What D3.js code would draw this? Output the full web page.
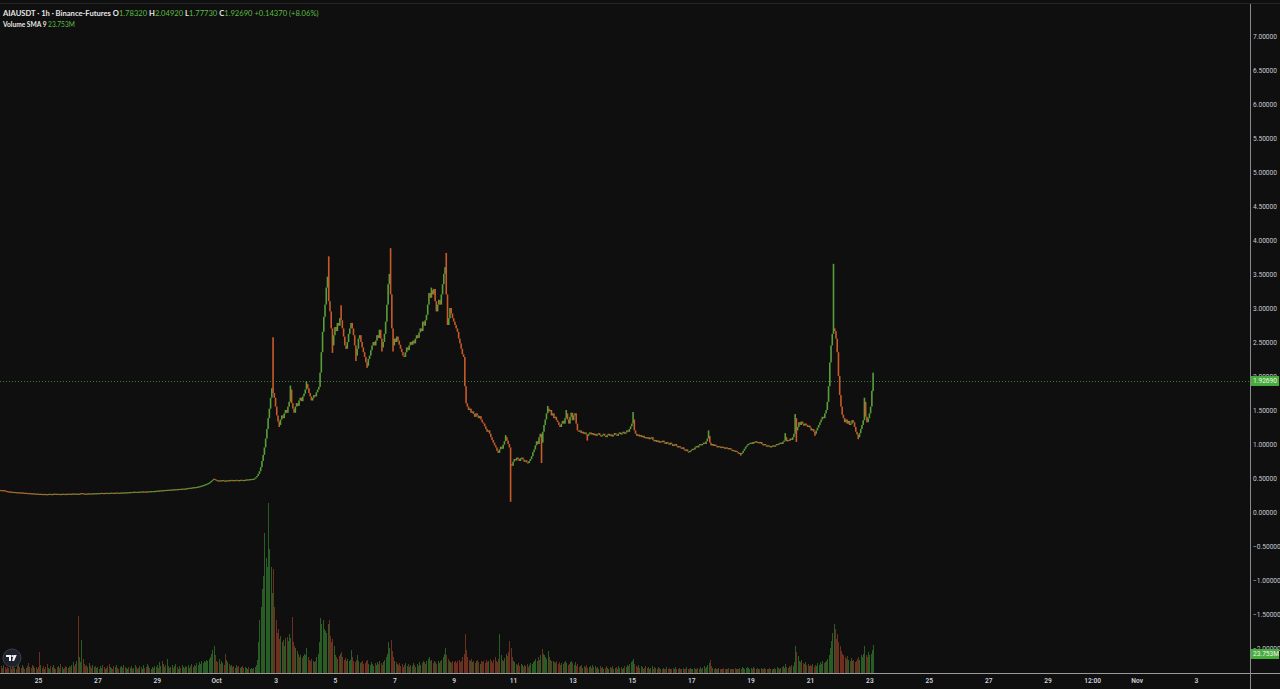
<!DOCTYPE html>
<html><head><meta charset="utf-8">
<script src="https://cdn.jsdelivr.net/npm/d3@7"></script>
<style>html,body{margin:0;padding:0;background:#0f0f0f;overflow:hidden}svg{display:block}</style>
</head><body><svg id="c" width="1280" height="689"></svg>
<script>
// ---------- DATA ----------
const symbolTitle = "AIAUSDT · 1h · Binance-Futures";
const ohlcLabels = ["O", "H", "L", "C"];
const ohlcValues = ["1.78320", "2.04920", "1.77730", "1.92690"];
const changeText = "+0.14370 (+8.06%)";
const volumeTitle = "Volume SMA 9";
const volumeSMA = 23.753;
const volumeSMAText = "23.753M";
const lastPrice = 1.92690;
const firstCandle = "2025-09-23T18:00:00Z";
const firstOpen = 0.325;

const priceTicks = [7, 6.5, 6, 5.5, 5, 4.5, 4, 3.5, 3, 2.5, 2, 1.5, 1, 0.5, 0, -0.5, -1, -1.5, -2];
const tickDates = ["2025-09-25", "2025-09-27", "2025-09-29", "2025-10-01", "2025-10-03", "2025-10-05", "2025-10-07",
  "2025-10-09", "2025-10-11", "2025-10-13", "2025-10-15", "2025-10-17", "2025-10-19", "2025-10-21", "2025-10-23",
  "2025-10-25", "2025-10-27", "2025-10-29", "2025-10-30T12:00", "2025-11-01", "2025-11-03"];
const tickLabels = ["25", "27", "29", "Oct", "3", "5", "7", "9", "11", "13", "15", "17", "19", "21", "23", "25", "27", "29", "12:00", "Nov", "3"];

// hourly closes, one row per day (Sep 23 18:00 ... Oct 23 03:00)
const closeByDay = [
  [0.32,0.318,0.322,0.315,0.31,0.305],
  [0.302,0.298,0.30,0.296,0.292,0.295,0.29,0.288,0.292,0.286,0.284,0.288,0.283,0.28,0.282,0.278,0.276,0.279,0.274,0.272,0.275,0.27,0.268,0.271],
  [0.267,0.265,0.268,0.264,0.262,0.266,0.263,0.26,0.264,0.268,0.265,0.262,0.266,0.27,0.267,0.264,0.268,0.265,0.262,0.266,0.269,0.266,0.263,0.267],
  [0.27,0.268,0.266,0.269,0.272,0.27,0.267,0.271,0.262,0.268,0.272,0.279,0.274,0.272,0.27,0.268,0.272,0.275,0.273,0.27,0.274,0.277,0.274,0.276],
  [0.278,0.275,0.279,0.282,0.279,0.276,0.28,0.283,0.28,0.278,0.282,0.285,0.282,0.279,0.283,0.286,0.283,0.28,0.284,0.287,0.285,0.288,0.285,0.289],
  [0.291,0.288,0.292,0.295,0.292,0.296,0.299,0.296,0.293,0.297,0.3,0.297,0.301,0.304,0.3,0.298,0.302,0.305,0.302,0.306,0.309,0.305,0.308,0.311],
  [0.314,0.311,0.316,0.319,0.316,0.321,0.324,0.32,0.325,0.328,0.324,0.329,0.332,0.328,0.333,0.336,0.332,0.337,0.34,0.336,0.341,0.344,0.34,0.345],
  [0.348,0.352,0.356,0.353,0.358,0.362,0.366,0.362,0.368,0.372,0.376,0.381,0.386,0.392,0.398,0.405,0.412,0.42,0.428,0.44,0.455,0.47,0.488,0.478],
  [0.468,0.462,0.466,0.46,0.465,0.47,0.464,0.458,0.462,0.467,0.463,0.468,0.472,0.468,0.464,0.469,0.473,0.469,0.466,0.47,0.474,0.471,0.468,0.473],
  [0.476,0.48,0.477,0.482,0.486,0.483,0.488,0.495,0.51,0.53,0.56,0.6,0.66,0.75,0.84,0.95,1.08,1.22,1.38,1.52,1.68,1.82,1.75,1.68],
  [1.55,1.42,1.33,1.28,1.36,1.42,1.38,1.45,1.5,1.46,1.55,1.62,1.8,1.6,1.52,1.46,1.55,1.6,1.56,1.64,1.68,1.63,1.7,1.74],
  [1.8,1.88,1.82,1.75,1.7,1.64,1.68,1.72,1.7,1.76,1.8,1.84,2.05,2.35,2.65,2.87,3.05,3.3,3.46,3.1,2.95,2.7,2.45,2.6],
  [2.72,2.66,2.78,2.74,2.85,2.82,2.7,2.58,2.45,2.4,2.5,2.62,2.7,2.78,2.7,2.6,2.45,2.3,2.4,2.55,2.6,2.5,2.42,2.35],
  [2.28,2.2,2.15,2.25,2.3,2.38,2.45,2.5,2.45,2.52,2.6,2.56,2.68,2.55,2.42,2.5,2.62,2.8,3.05,3.35,3.5,3.2,2.7,2.45],
  [2.55,2.5,2.58,2.52,2.46,2.4,2.35,2.3,2.28,2.35,2.42,2.38,2.45,2.5,2.46,2.52,2.48,2.55,2.6,2.56,2.64,2.7,2.66,2.8],
  [2.74,2.82,2.9,3.05,3.22,3.15,3.26,3.2,3.28,3.1,2.95,3.05,3.12,3.05,3.2,3.35,3.5,3.6,3.2,2.75,2.85,3.0,2.92,2.85],
  [2.8,2.75,2.7,2.65,2.55,2.48,2.4,2.32,2.28,1.85,1.6,1.55,1.5,1.52,1.46,1.48,1.44,1.4,1.45,1.42,1.38,1.41,1.36,1.32],
  [1.3,1.26,1.22,1.18,1.2,1.15,1.1,1.06,1.02,0.98,0.95,0.9,0.87,0.92,0.96,0.93,0.99,1.04,1.1,1.05,1.0,0.95,0.7,0.68],
  [0.74,0.78,0.76,0.8,0.78,0.75,0.79,0.8,0.77,0.74,0.76,0.73,0.72,0.75,0.78,0.82,0.88,0.92,0.98,1.04,1.0,1.1,1.15,1.02],
  [1.18,1.28,1.36,1.45,1.52,1.48,1.5,1.42,1.45,1.38,1.4,1.35,1.32,1.28,1.25,1.3,1.34,1.3,1.38,1.45,1.36,1.3,1.4,1.46],
  [1.35,1.42,1.45,1.3,1.2,1.18,1.2,1.16,1.18,1.15,1.17,1.14,1.12,1.15,1.17,1.14,1.16,1.13,1.15,1.12,1.14,1.16,1.13,1.11],
  [1.13,1.15,1.12,1.1,1.13,1.15,1.12,1.14,1.11,1.13,1.16,1.14,1.12,1.15,1.17,1.14,1.16,1.18,1.15,1.17,1.2,1.18,1.22,1.26],
  [1.3,1.36,1.2,1.15,1.12,1.14,1.11,1.13,1.1,1.12,1.09,1.1,1.08,1.1,1.07,1.09,1.1,1.06,1.04,1.06,1.03,1.05,1.02,1.04],
  [1.03,1.05,1.02,1.0,1.03,1.01,0.99,1.02,1.0,0.97,0.99,1.0,0.97,0.95,0.97,0.95,0.93,0.95,0.92,0.9,0.92,0.89,0.88,0.9],
  [0.91,0.93,0.92,0.95,0.97,0.95,0.98,1.0,0.98,1.0,1.02,1.0,1.04,1.08,1.12,1.02,0.98,1.0,0.97,0.99,0.97,0.95,0.97,0.96],
  [0.94,0.96,0.95,0.93,0.95,0.94,0.92,0.94,0.92,0.9,0.91,0.89,0.9,0.88,0.86,0.87,0.85,0.87,0.9,0.93,0.96,0.98,1.0,1.01],
  [1.02,1.0,1.03,1.02,1.04,1.02,1.03,1.01,1.03,1.0,0.98,1.0,0.98,0.96,0.98,0.97,0.95,0.97,0.98,0.96,0.98,1.0,0.99,1.01],
  [1.02,1.0,1.03,1.05,1.1,1.04,1.06,1.05,1.08,1.06,1.1,1.15,1.38,1.2,1.25,1.32,1.28,1.33,1.3,1.27,1.3,1.28,1.25,1.27],
  [1.24,1.2,1.22,1.18,1.15,1.2,1.24,1.28,1.32,1.36,1.4,1.38,1.45,1.5,1.62,1.85,2.2,2.45,2.62,2.7,2.66,2.55,2.35,2.0],
  [1.72,1.55,1.43,1.38,1.32,1.36,1.3,1.34,1.28,1.3,1.35,1.32,1.25,1.18,1.14,1.1,1.16,1.22,1.28,1.35,1.62,1.4,1.32,1.38],
  [1.45,1.55,1.7832,1.9269]
];

// notable wick extremes (candle index, high, low)
const wickIdx  = [62, 220, 225, 234, 247, 265, 268, 275, 287, 296, 308, 315, 317, 348, 360, 408, 412, 437, 442, 457, 474, 511, 572, 598, 634, 642, 643, 658, 673, 693, 698, 705];
const wickHigh = [null, 2.57, null, 1.86, 1.92, 3.76, null, 3.04, null, null, null, 3.88, null, 3.3, 3.81, 1.13, null, null, 1.56, 1.5, null, 1.47, 1.2, null, 1.16, 1.44, null, null, 3.65, null, 1.68, 2.0492];
const wickLow  = [0.255, null, 1.25, null, null, null, 2.34, null, 2.22, 2.12, 2.36, null, 2.36, null, null, null, 0.15, 0.72, null, null, 1.05, null, null, 0.83, null, null, 1.03, 1.12, null, 1.07, null, 1.7773];

// hourly volume in millions, one row per day
const volumeByDay = [
  [8,6,9,7,5,7],
  [6,8,5,7,9,6,5,8,10,7,6,9,7,5,6,8,11,7,6,9,8,6,7,5],
  [7,24,9,6,8,5,7,10,6,5,8,7,9,6,5,7,8,6,10,7,5,6,8,7],
  [6,8,7,9,12,8,10,14,64,18,12,37,16,10,8,9,7,11,8,6,9,7,8,6],
  [7,5,8,6,9,7,5,6,8,10,7,6,5,8,7,9,6,5,7,8,6,9,7,6],
  [5,7,6,8,5,6,9,7,5,6,8,7,5,9,6,7,10,8,6,5,7,6,8,7],
  [9,6,12,8,14,10,7,9,16,8,6,7,9,6,8,10,7,5,8,6,9,7,6,8],
  [7,9,6,8,10,7,9,8,11,9,12,10,14,11,13,12,15,13,16,18,22,26,30,20],
  [14,12,16,10,13,11,9,22,15,12,10,8,9,7,8,6,9,7,8,6,7,8,6,7],
  [6,5,7,5,6,5,6,7,9,15,35,60,75,95,110,158,130,120,192,140,120,90,118,75],
  [60,45,50,38,42,35,37,30,40,41,36,44,40,63,35,30,28,25,22,18,20,17,19,22],
  [20,28,18,15,14,16,13,12,14,18,22,35,62,55,60,50,48,45,55,60,42,35,38,30],
  [20,18,16,19,22,24,18,15,17,14,16,13,15,26,18,14,12,15,20,13,11,12,14,10],
  [11,13,15,10,9,12,10,8,11,9,12,10,14,11,9,12,15,18,22,35,28,37,25,18],
  [14,12,10,9,11,8,10,7,9,11,8,10,7,9,8,11,9,7,10,8,12,9,11,13],
  [12,10,14,16,18,13,15,11,13,12,10,14,11,13,15,18,22,28,20,16,14,12,11,13],
  [12,14,11,13,15,12,14,18,22,44,26,18,15,13,16,12,14,11,13,15,12,10,14,12],
  [13,11,15,12,14,16,13,11,15,18,14,12,16,44,20,15,13,17,22,19,24,36,28,18],
  [14,12,10,9,11,8,10,9,7,9,8,10,7,9,11,10,12,14,16,13,18,15,20,27],
  [22,20,18,16,25,18,15,13,14,12,11,13,10,12,9,11,10,12,14,11,9,10,12,13],
  [11,9,12,8,10,7,8,9,6,8,7,9,6,7,8,6,9,7,8,6,7,5,8,6],
  [7,5,6,8,6,5,7,6,8,5,6,7,5,8,6,7,5,6,8,7,9,8,10,12],
  [13,16,10,8,7,9,6,8,7,5,6,8,6,7,5,6,8,5,7,6,5,7,6,5],
  [5,6,4,5,7,4,6,5,4,6,5,7,4,5,6,4,5,6,4,5,7,5,4,6],
  [5,4,6,5,4,6,5,7,5,6,8,6,7,9,11,15,8,6,5,6,4,5,6,5],
  [4,5,6,4,5,4,6,5,4,5,4,6,5,4,5,6,5,7,6,5,6,7,6,5],
  [6,5,7,6,5,6,4,5,6,5,4,6,5,4,5,6,5,4,5,6,5,7,6,5],
  [6,7,8,6,10,7,6,8,7,9,8,12,31,24,19,14,12,15,11,10,12,9,10,8],
  [9,8,10,7,9,8,11,9,12,10,13,11,12,14,16,20,28,36,45,55,50,38,44,35],
  [30,25,22,20,18,16,19,15,14,17,13,15,12,14,16,18,15,20,18,22,30,20,18,24],
  [20,22,26,32]
];

// ---------- BUILD ----------
const closes = closeByDay.flat();
const volumes = volumeByDay.flat();
const t0 = new Date(firstCandle).getTime();
const candles = closes.map((c, i) => {
  const o = i === 0 ? firstOpen : closes[i - 1];
  let h = Math.max(o, c), l = Math.min(o, c);
  const w = wickIdx.indexOf(i);
  if (w >= 0) {
    if (wickHigh[w] != null) h = Math.max(h, wickHigh[w]);
    if (wickLow[w] != null) l = Math.min(l, wickLow[w]);
  }
  return { t: new Date(t0 + i * 3600e3), o, h, l, c, v: volumes[i] };
});

const W = 1280, H = 689, paneRight = 1250, axisY = 673;
const upColor = "#56a03a", downColor = "#c95a2b";
const volUp = "#2a5c26", volDown = "#6b3020";
const bg = "#0f0f0f";

const x = d3.scaleUtc().domain([new Date("2025-09-25T00:00:00Z"), new Date("2025-11-03T00:00:00Z")]).range([38, 1196]);
const y = d3.scaleLinear().domain([-2, 7]).range([648, 36]);
const yv = d3.scaleLinear().domain([0, 192]).range([axisY, 503]);

const svg = d3.select("#c");
svg.append("rect").attr("width", W).attr("height", H).attr("fill", bg);

svg.append("defs").append("clipPath").attr("id", "pane")
  .append("rect").attr("x", 0).attr("y", 0).attr("width", paneRight).attr("height", axisY);

const pane = svg.append("g").attr("clip-path", "url(#pane)");

// volume bars
pane.append("g").attr("shape-rendering", "crispEdges")
  .selectAll("rect").data(candles).join("rect")
  .attr("x", d => Math.round(x(d.t)))
  .attr("width", 1)
  .attr("y", d => yv(d.v))
  .attr("height", d => axisY - yv(d.v))
  .attr("fill", d => d.c >= d.o ? volUp : volDown);

// last price line
pane.append("line")
  .attr("x1", 0).attr("x2", paneRight)
  .attr("y1", Math.round(y(lastPrice)) + 0.5).attr("y2", Math.round(y(lastPrice)) + 0.5)
  .attr("stroke", "#3a8232").attr("stroke-width", 1).attr("stroke-dasharray", "1,2");

// candles
pane.append("g")
  .selectAll("rect").data(candles).join("rect")
  .attr("x", d => x(d.t) - 0.8)
  .attr("width", 1.6)
  .attr("y", d => y(d.h))
  .attr("height", d => Math.max(1.2, y(d.l) - y(d.h)))
  .attr("fill", d => d.c >= d.o ? upColor : downColor);

// frame lines
svg.append("line").attr("x1", 0).attr("x2", W).attr("y1", 3.5).attr("y2", 3.5).attr("stroke", "#262626");
svg.append("line").attr("x1", paneRight + 0.5).attr("x2", paneRight + 0.5).attr("y1", 4).attr("y2", H).attr("stroke", "#8a8a8a");
svg.append("line").attr("x1", 0).attr("x2", W).attr("y1", axisY + 0.5).attr("y2", axisY + 0.5).attr("stroke", "#9a9a9a");

// right price axis
const fmt = d3.format(".5f");
const ya = svg.append("g").attr("transform", `translate(${paneRight},0)`)
  .call(d3.axisRight(y).tickValues(priceTicks).tickFormat(fmt).tickSize(0).tickPadding(3));
ya.select(".domain").remove();
ya.selectAll("text").attr("fill", "#c8cad0").attr("font-size", "6.6px").attr("font-family", "Roboto, 'DejaVu Sans', sans-serif");

// bottom time axis
const xa = svg.append("g").attr("transform", `translate(0,${axisY})`)
  .call(d3.axisBottom(x).tickValues(tickDates.map(s => new Date(s + (s.length > 10 ? ":00Z" : "T00:00:00Z"))))
    .tickFormat((d, i) => tickLabels[i]).tickSize(0).tickPadding(5));
xa.select(".domain").remove();
xa.selectAll("text").attr("fill", "#d1d4dc").attr("font-size", "6.6px").attr("font-weight", 600)
  .attr("font-family", "Roboto, 'DejaVu Sans', sans-serif");

// price label
function tag(cy, txt) {
  const g = svg.append("g");
  g.append("rect").attr("x", paneRight + 1).attr("y", cy - 5).attr("width", 28).attr("height", 10).attr("fill", "#47ad3a");
  g.append("text").attr("x", paneRight + 3).attr("y", cy + 2.3).text(txt)
    .attr("fill", "#f0f0f0").attr("font-size", "6.6px").attr("font-family", "Roboto, 'DejaVu Sans', sans-serif");
}
tag(y(lastPrice), fmt(lastPrice));
tag(yv(volumeSMA) + 2, volumeSMAText);

// header
const hf = "Lato, 'Open Sans', sans-serif";
const h1 = svg.append("text").attr("x", 3).attr("y", 16).attr("font-family", hf).attr("font-size", "7.6px").attr("font-weight", 700).attr("fill", "#e6e6e6");
h1.append("tspan").text(symbolTitle + " ");
ohlcLabels.forEach((lab, i) => {
  h1.append("tspan").text(lab);
  h1.append("tspan").attr("fill", "#5cbc45").attr("font-weight", 400).text(ohlcValues[i] + " ");
});
h1.append("tspan").attr("fill", "#5cbc45").attr("font-weight", 400).text(changeText);

const h2 = svg.append("text").attr("x", 3).attr("y", 27).attr("font-family", hf).attr("font-size", "6.6px").attr("font-weight", 700).attr("fill", "#e6e6e6");
h2.append("tspan").text(volumeTitle + " ");
h2.append("tspan").attr("fill", "#5cbc45").attr("font-weight", 400).text(volumeSMAText);

// TradingView logo
const logo = svg.append("g").attr("transform", "translate(12,658)");
logo.append("circle").attr("r", 9).attr("fill", "#1e222d").attr("stroke", "#3b3f4a").attr("stroke-width", 1);
logo.append("path").attr("d", "M-6,-3h5v6h-2v-4h-3z M1.5,-3h3.2l-2.6,6h-2z").attr("fill", "#f2f2f2");
logo.append("circle").attr("cx", 0.3).attr("cy", -2).attr("r", 1).attr("fill", "#f2f2f2");
</script></body></html>
